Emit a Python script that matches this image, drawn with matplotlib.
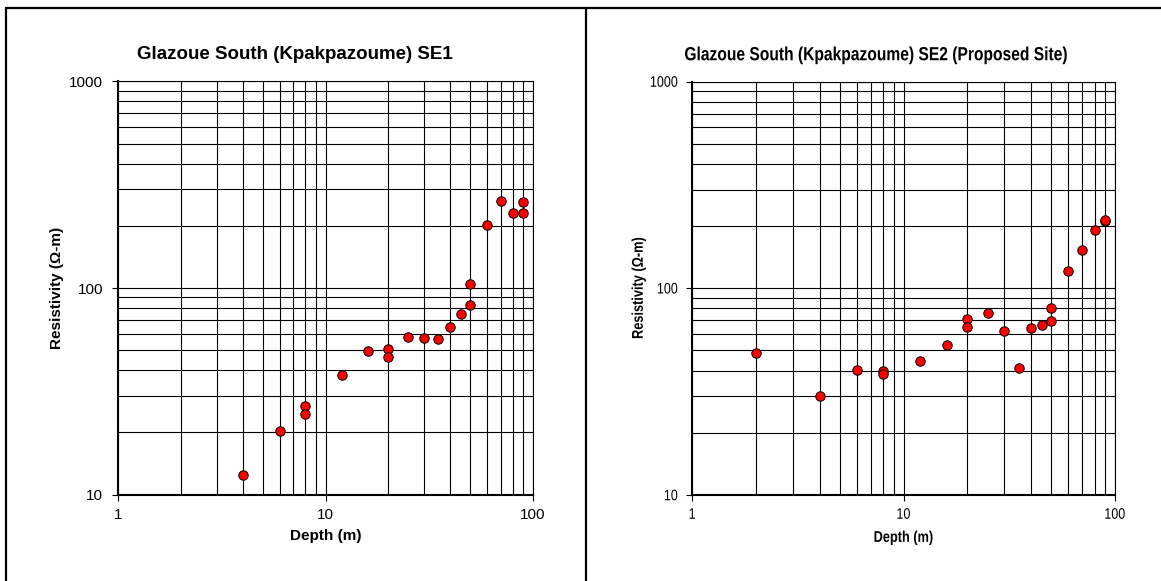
import matplotlib
matplotlib.use("Agg")
import matplotlib.pyplot as plt
from matplotlib import ticker
from matplotlib.lines import Line2D
from matplotlib.patches import PathPatch
from matplotlib.textpath import TextPath
from matplotlib.font_manager import FontProperties
from matplotlib.transforms import Affine2D

# ---- data: vertical electrical sounding, resistivity vs depth ----
se1_depth = [4, 6, 8, 8, 12, 16, 20, 20, 25, 30, 35, 40, 45, 50, 50, 60, 70, 80, 90, 90]
se1_resistivity = [12.5, 20.4, 26.8, 24.5, 37.8, 49.3, 50.4, 46.6, 57.9, 57.0,
                   56.5, 64.4, 74.8, 83.2, 104, 202, 263, 230, 262, 230]

se2_depth = [2, 4, 6, 8, 8, 12, 16, 20, 20, 25, 30, 35, 40, 45, 50, 50, 60, 70, 80, 90, 90]
se2_resistivity = [48.7, 30.1, 40.3, 40.0, 38.5, 44.7, 53.0, 70.7, 64.9, 76.2, 62.0,
                   41.0, 64.0, 66.7, 69.5, 80.4, 121, 153, 191, 211, 215]

titles = ["Glazoue South (Kpakpazoume) SE1",
          "Glazoue South (Kpakpazoume) SE2 (Proposed Site)"]
x_label = "Depth (m)"
y_label = "Resistivity (\u03a9-m)"
x_ticks = [1, 10, 100]
y_ticks = [10, 100, 1000]

FONT = "Liberation Sans"
W, H = 1161, 581
DPI = 100
plt.rcParams["font.family"] = [FONT, "DejaVu Sans"]

fig = plt.figure(figsize=(W / DPI, H / DPI), dpi=DPI)
fig.patch.set_facecolor("white")


def condensed_text(x_px, y_px, text, size_pt, bold=False, rotation=0,
                   squeeze=0.82, ha="center", va="center"):
    """Draw horizontally condensed text at a pixel position (origin bottom-left)."""
    prop = FontProperties(family=FONT, weight="bold" if bold else "normal")
    size_px = size_pt * DPI / 72.0
    tp = TextPath((0, 0), text, size=size_px, prop=prop)
    ext = tp.get_extents()
    # vertical centering on the digit height band
    ref = TextPath((0, 0), "0", size=size_px, prop=prop).get_extents()
    x0 = {"center": (ext.x0 + ext.x1) / 2, "left": ext.x0, "right": ext.x1}[ha]
    y0 = {"center": (ref.y0 + ref.y1) / 2, "top": ref.y1, "bottom": ref.y0}[va]
    tr = (Affine2D().translate(-x0, -y0).scale(squeeze, 1.0)
          .rotate_deg(rotation).translate(x_px, y_px))
    patch = PathPatch(tr.transform_path(tp), facecolor="black", edgecolor="none",
                      transform=None, zorder=10)
    fig.add_artist(patch)


def style_axes(ax):
    ax.set_xscale("log")
    ax.set_yscale("log")
    ax.set_xlim(1, 100)
    ax.set_ylim(10, 1000)
    ax.xaxis.set_major_locator(ticker.FixedLocator(x_ticks))
    ax.yaxis.set_major_locator(ticker.FixedLocator(y_ticks))
    ax.xaxis.set_minor_locator(ticker.LogLocator(base=10, subs=range(2, 10)))
    ax.yaxis.set_minor_locator(ticker.LogLocator(base=10, subs=range(2, 10)))
    fmt = ticker.FuncFormatter(lambda v, pos: f"{v:g}")
    ax.xaxis.set_major_formatter(fmt)
    ax.yaxis.set_major_formatter(fmt)
    ax.xaxis.set_minor_formatter(ticker.NullFormatter())
    ax.yaxis.set_minor_formatter(ticker.NullFormatter())
    ax.grid(True, which="both", color="black", linewidth=0.8)
    ax.set_axisbelow(True)
    ax.tick_params(which="major", direction="out", length=4, width=0.8,
                   color="black", labelsize=11)
    ax.tick_params(axis="y", which="major", pad=7)
    ax.tick_params(axis="x", which="major", pad=6)
    ax.tick_params(which="minor", length=0)
    for s in ax.spines.values():
        s.set_color("black")
        s.set_linewidth(0.8)
    ax.spines["bottom"].set_linewidth(1.5)
    ax.spines["left"].set_linewidth(1.5)


def scatter(ax, x, y):
    ax.plot(x, y, linestyle="none", marker="o", markersize=6.8,
            markerfacecolor="#ff0000", markeredgecolor="black",
            markeredgewidth=0.7, zorder=5, clip_on=False)


# ---- SE1 (left panel) ----
ax1 = fig.add_axes([118.4 / W, 1 - 494.6 / H, (532.7 - 118.4) / W, (494.6 - 81.4) / H])
style_axes(ax1)
scatter(ax1, se1_depth, se1_resistivity)
ax1.set_xlabel(x_label, fontsize=11, fontweight="bold", va="center")
ax1.xaxis.set_label_coords(0.5, -0.101)
ax1.set_ylabel(y_label, fontsize=11, fontweight="bold", va="center")
ax1.yaxis.set_label_coords(-0.1475, 0.5)
fig.text(294.6 / W, 1 - 54.4 / H, titles[0], ha="center", va="center",
         fontsize=13.5, fontweight="bold")

# ---- SE2 (right panel, condensed lettering) ----
ax2 = fig.add_axes([692.3 / W, 1 - 495.0 / H, (1115.0 - 692.3) / W, (495.0 - 81.5) / H])
style_axes(ax2)
ax2.tick_params(labelbottom=False, labelleft=False)
scatter(ax2, se2_depth, se2_resistivity)

for v in x_ticks:
    px, py = ax2.transData.transform((v, 10))
    condensed_text(px, py - 18.5, f"{v:g}", 11)
for v in y_ticks:
    px, py = ax2.transData.transform((1, v))
    condensed_text(px - 15, py, f"{v:g}", 11, ha="right")

condensed_text(903.5, H - 536.5, x_label, 11.2, bold=True)
condensed_text(637.4, H - 288.0, y_label, 11.2, bold=True, rotation=90)
condensed_text(875.9, H - 53.7, titles[1], 13.7, bold=True)

# panel frame lines
frame = dict(color="black", linewidth=1.6, transform=fig.transFigure, solid_capstyle="butt")
fig.add_artist(Line2D([6 / W, 6 / W], [0, 1 - 7 / H], **frame))
fig.add_artist(Line2D([5 / W, 1], [1 - 7.5 / H, 1 - 7.5 / H], **frame))
fig.add_artist(Line2D([585.5 / W, 585.5 / W], [0, 1 - 7 / H], **frame))

fig.savefig("out.png", dpi=DPI, facecolor="white")
